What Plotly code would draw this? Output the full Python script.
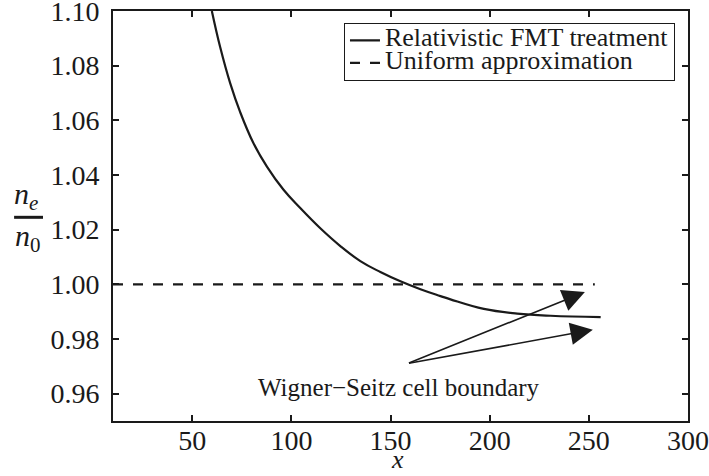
import plotly.graph_objects as go

# Data
x_fmt = [59.85, 64.04, 69.09, 74.14, 80.86, 87.63, 96.01, 104.44, 114.55, 124.65,
         134.75, 144.85, 154.95, 165.05, 175.15, 180.2, 197.02, 213.89, 230.71, 255.96]
y_fmt = [1.1000, 1.0868, 1.0736, 1.0630, 1.0516, 1.0431, 1.0346, 1.0279, 1.0205, 1.0140,
         1.0085, 1.0045, 1.0011, 0.9982, 0.9957, 0.9945, 0.9910, 0.9893, 0.9885, 0.9880]
x_uni = [10, 253]
y_uni = [1.0, 1.0]

series_names = ["Relativistic FMT treatment", "Uniform approximation"]
annot_text = "Wigner\u2212Seitz cell boundary"
arrow_tail = (158.5, 0.971)
arrow_tips = [(248.0, 0.9972), (252.0, 0.9834)]
text_pos = (154.0, 0.9623)

x_ticks = [50, 100, 150, 200, 250, 300]
y_ticks = [0.96, 0.98, 1.00, 1.02, 1.04, 1.06, 1.08, 1.10]

FONT = "Liberation Serif, DejaVu Serif, serif"
INK = "#1a1a1a"
LEG_SIZE = 26

def legend_name(s):
    return '<span style="font-size:%dpx">%s</span>' % (LEG_SIZE, s)

fig = go.Figure()
fig.add_trace(go.Scatter(x=x_fmt, y=y_fmt, mode="lines", name=legend_name(series_names[0]),
                         line=dict(color=INK, width=2.2, shape="spline", smoothing=1.2)))
fig.add_trace(go.Scatter(x=x_uni, y=y_uni, mode="lines", name=legend_name(series_names[1]),
                         line=dict(color=INK, width=2.2, dash="10px,10px")))

for tx, ty in arrow_tips:
    fig.add_annotation(x=tx, y=ty, ax=arrow_tail[0], ay=arrow_tail[1],
                       xref="x", yref="y", axref="x", ayref="y",
                       showarrow=True, arrowhead=2, arrowsize=2.8, arrowwidth=1.6,
                       arrowcolor=INK, text="", standoff=0)

fig.add_annotation(x=text_pos[0], y=text_pos[1], xref="x", yref="y", text=annot_text,
                   showarrow=False, font=dict(family=FONT, size=25, color=INK))

# axis labels
fig.add_annotation(x=0.494, y=-0.134, xref="paper", yref="paper", text="<i>x</i>",
                   showarrow=False, font=dict(family=FONT, size=26, color=INK),
                   xanchor="center", yanchor="bottom")
fig.add_annotation(x=-0.152, y=0.497, xref="paper", yref="paper", text="<i>n<sub>e</sub></i>",
                   showarrow=False, font=dict(family=FONT, size=30, color=INK),
                   xanchor="center", yanchor="bottom")
fig.add_annotation(x=-0.148, y=0.497, xref="paper", yref="paper", text="<i>n</i><sub>0</sub>",
                   showarrow=False, font=dict(family=FONT, size=30, color=INK),
                   xanchor="center", yanchor="top")
fig.add_shape(type="line", xref="paper", yref="paper", x0=-0.172, x1=-0.1217,
              y0=0.4968, y1=0.4968, line=dict(color=INK, width=3))

axis_common = dict(showgrid=False, zeroline=False, showline=True, linecolor=INK,
                   linewidth=1.6, mirror="ticks", ticks="inside", ticklen=6,
                   tickwidth=1.5, tickcolor=INK, ticklabeloverflow="allow",
                   automargin=False,
                   tickfont=dict(family=FONT, size=28, color=INK))

fig.update_xaxes(range=[10, 300], tickvals=x_ticks, ticktext=[str(v) for v in x_ticks],
                 ticklabelstandoff=-6, **axis_common)
fig.update_yaxes(range=[0.95, 1.10], tickvals=y_ticks,
                 ticktext=["%.2f" % v for v in y_ticks], ticklabelstandoff=6, **axis_common)

fig.update_layout(
    width=709, height=476,
    margin=dict(l=113, r=21, t=11, b=55, autoexpand=False),
    paper_bgcolor="white", plot_bgcolor="white",
    showlegend=True,
    legend=dict(x=0.977, y=0.971, xanchor="right", yanchor="top",
                bordercolor=INK, borderwidth=1.2, bgcolor="white",
                font=dict(family=FONT, size=15, color=INK),
                tracegroupgap=0, itemwidth=30),
)

fig.write_html("out.html")
